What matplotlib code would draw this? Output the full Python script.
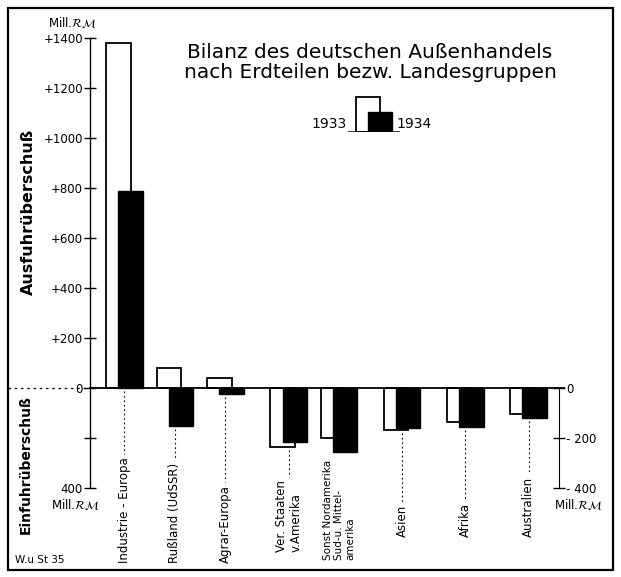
import matplotlib
matplotlib.use("Agg")
import matplotlib.pyplot as plt
from matplotlib import font_manager
from matplotlib.patches import Rectangle

# data (Mill. RM, Ausfuhr positiv / Einfuhr negativ)
categories = ["Industrie - Europa", "Rußland (UdSSR)", "Agrar-Europa",
              "Ver. Staaten\nv.Amerika", "Sonst Nordamerika\nSud-u. Mittel-\namerika",
              "Asien", "Afrika", "Australien"]
val_1933 = [1380, 80, 40, -235, -200, -168, -136, -104]
val_1934 = [790, -150, -22, -216, -256, -160, -155, -120]
years = ["1933", "1934"]
left_ticks = [1400, 1200, 1000, 800, 600, 400, 200, 0, -200, -400]
left_ticklabels = ["+1400", "+1200", "+1000", "+800", "+600", "+400", "+200", "0", "", "400"]
right_ticks = [0, -200, -400]
right_ticklabels = ["0", "- 200", "- 400"]

# layout
W, H = 621, 577
xpos = [0, 1, 2, 3.25, 4.25, 5.5, 6.75, 8.0]
label_bottom = [-700, -700, -700, -656, -690, -596, -596, -596]
bw = 0.48
off = 0.12

names = {f.name for f in font_manager.fontManager.ttflist}
narrow = "Liberation Sans Narrow" if "Liberation Sans Narrow" in names else "DejaVu Sans"
plt.rcParams["font.family"] = ["DejaVu Sans"]

fig = plt.figure(figsize=(W / 100, H / 100), dpi=100)

def fx(px):
    return px / W

def fy(py):
    return 1 - py / H

ax = fig.add_axes([fx(90), fy(488), (567 - 90) / W, (488 - 38) / H])
ax.set_xlim(-0.683, 8.762)
ax.set_ylim(-400, 1400)

x33 = [x - off for x in xpos]
x34 = [x + off for x in xpos]
ax.bar(x33, val_1933, width=bw, facecolor="white", edgecolor="black", linewidth=1.3, zorder=2)
ax.bar(x34, val_1934, width=bw, facecolor="black", edgecolor="black", linewidth=1.0, zorder=3)

# Nulllinie
ax.plot([-0.683, 8.7], [0, 0], color="black", lw=1.3, zorder=4, clip_on=False)
ax.plot([-2.31, -0.683], [0, 0], color="black", lw=0.9, ls=(0, (2, 3)), clip_on=False)

for s in ["top", "bottom", "right"]:
    ax.spines[s].set_visible(False)
ax.spines["left"].set_linewidth(1.0)
ax.set_xticks([])
ax.set_yticks(left_ticks)
ax.set_yticklabels(left_ticklabels, fontsize=8.5)
ax.tick_params(axis="y", direction="inout", length=8, width=1.0, pad=1)

ax2 = ax.twinx()
ax2.set_ylim(ax.get_ylim())
for s in ["top", "bottom", "left"]:
    ax2.spines[s].set_visible(False)
ax2.spines["right"].set_position(("data", 8.604))
ax2.spines["right"].set_bounds(-400, 0)
ax2.set_yticks(right_ticks)
ax2.set_yticklabels(right_ticklabels, fontsize=8.5)
ax2.tick_params(axis="y", direction="inout", length=8, width=1.0, pad=1)

# Kategorienbeschriftung
texts = []
for x, lab, yb in zip(xpos, categories, label_bottom):
    fs = 7.5 if lab.startswith("Sonst") else 8.5
    t = ax.text(x, yb, lab, rotation=90, ha="center", va="bottom", multialignment="left",
                fontsize=fs, family=[narrow, "DejaVu Sans"], clip_on=False)
    texts.append(t)

fig.canvas.draw()
inv = ax.transData.inverted()
for x, t, a, b in zip(xpos, texts, val_1933, val_1934):
    bb = t.get_window_extent()
    top = inv.transform((bb.x0, bb.y1))[1] + 12
    low = min(a, b, 0) - 12
    if low - top > 40:
        ax.plot([x, x], [low, top], color="black", lw=0.8, ls=(0, (1.5, 2.5)), clip_on=False)

# Achsentitel
fig.text(fx(28), fy(212), "Ausfuhrüberschuß", rotation=90, ha="center", va="center",
         fontsize=11.5, fontweight="bold")
fig.text(fx(26), fy(464), "Einfuhrüberschuß", rotation=90, ha="center", va="center",
         fontsize=10, fontweight="bold")
rm = r"Mill.$\mathcal{RM}$"
fig.text(fx(72), fy(22), rm, ha="center", va="center", fontsize=8.5)
fig.text(fx(75), fy(505), rm, ha="center", va="center", fontsize=8.5)
fig.text(fx(578), fy(505), rm, ha="center", va="center", fontsize=8.5)
fig.text(fx(15), fy(565), "W.u St 35", ha="left", va="bottom", fontsize=7.5)

fig.text(fx(370), fy(52), "Bilanz des deutschen Außenhandels", ha="center", va="center", fontsize=14.5)
fig.text(fx(370), fy(72), "nach Erdteilen bezw. Landesgruppen", ha="center", va="center", fontsize=14.5)

# Legende
lg = fig.add_axes([fx(348), fy(132), 52 / W, 37 / H])
lg.set_xlim(-0.515, 0.515)
lg.set_ylim(0, 1.06)
lg.bar([-off], [1.0], width=bw, facecolor="white", edgecolor="black", linewidth=1.3, zorder=2)
lg.bar([off], [0.57], width=bw, facecolor="black", edgecolor="black", linewidth=1.0, zorder=3)
lg.axhline(0, color="black", lw=1.8, zorder=4)
lg.axis("off")
fig.text(fx(347), fy(124), years[0], ha="right", va="center", fontsize=10)
fig.text(fx(396), fy(124), years[1], ha="left", va="center", fontsize=10)

# Rahmen
fig.add_artist(Rectangle((fx(8), fy(570)), 605 / W, 562 / H, transform=fig.transFigure,
                         fill=False, edgecolor="black", linewidth=1.6))

fig.savefig("out.png", dpi=100)
